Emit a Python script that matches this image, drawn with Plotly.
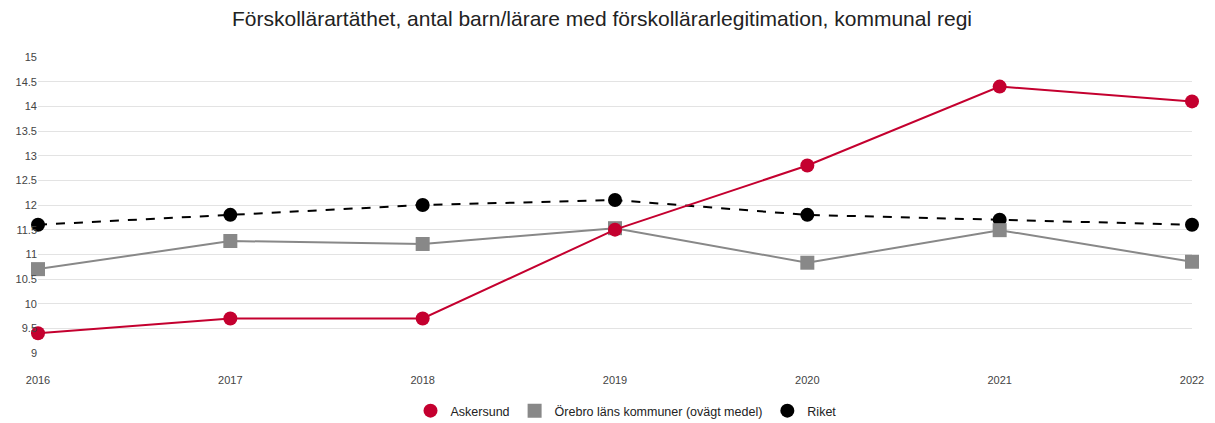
import plotly.graph_objects as go

years = [2016, 2017, 2018, 2019, 2020, 2021, 2022]
askersund = [9.4, 9.7, 9.7, 11.5, 12.8, 14.4, 14.1]
orebro = [10.7, 11.27, 11.21, 11.53, 10.83, 11.49, 10.85]
riket = [11.6, 11.8, 12.0, 12.1, 11.8, 11.7, 11.6]

names = ["Askersund", "Örebro läns kommuner (ovägt medel)", "Riket"]
colors = ["#c4002f", "#888888", "#000000"]
symbols = ["circle", "square", "circle"]
dashes = ["solid", "solid", "dash"]
series = [askersund, orebro, riket]

W, H = 1207, 423  # page body has an 8px margin
L, R, T, B = 30, 23, 49, 78

fig = go.Figure()
for i in [2, 1, 0]:
    fig.add_trace(go.Scatter(
        x=years, y=series[i], mode="lines+markers", name=names[i],
        line=dict(color=colors[i], width=2, dash=dashes[i]),
        marker=dict(color=colors[i], symbol=symbols[i], size=14),
        cliponaxis=False, showlegend=False,
    ))
for i in range(3):
    fig.add_trace(go.Scatter(
        x=[None], y=[None], mode="markers", name=names[i],
        marker=dict(color=colors[i], symbol=symbols[i], size=14),
    ))

fig.update_layout(
    width=W, height=H,
    margin=dict(l=L, r=R, t=T, b=B, autoexpand=False),
    paper_bgcolor="white", plot_bgcolor="white",
    font=dict(family="Liberation Sans, Arial, sans-serif", color="#333"),
    title=dict(text="Förskollärartäthet, antal barn/lärare med förskollärarlegitimation, kommunal regi",
               x=594 / W, xanchor="center", y=1 - 11 / H, yanchor="middle",
               font=dict(size=21, color="#222")),
    xaxis=dict(range=[2016, 2022], tickvals=years, ticktext=[str(y) for y in years],
               showgrid=False, zeroline=False, showline=False,
               ticks="outside", ticklen=17, tickcolor="rgba(0,0,0,0)",
               tickfont=dict(size=11, color="#444")),
    yaxis=dict(range=[9, 15], dtick=0.5, showgrid=True, gridcolor="#e3e3e3", gridwidth=1,
               zeroline=False, showline=False, ticks="",
               tickfont=dict(size=11, color="#444")),
    legend=dict(orientation="h", xref="container", x=618 / W, xanchor="center",
                yref="container", y=1 - 403 / H, yanchor="middle",
                font=dict(size=12.5, color="#222"), itemwidth=30, traceorder="normal"),
)

fig.write_html("out.html")
